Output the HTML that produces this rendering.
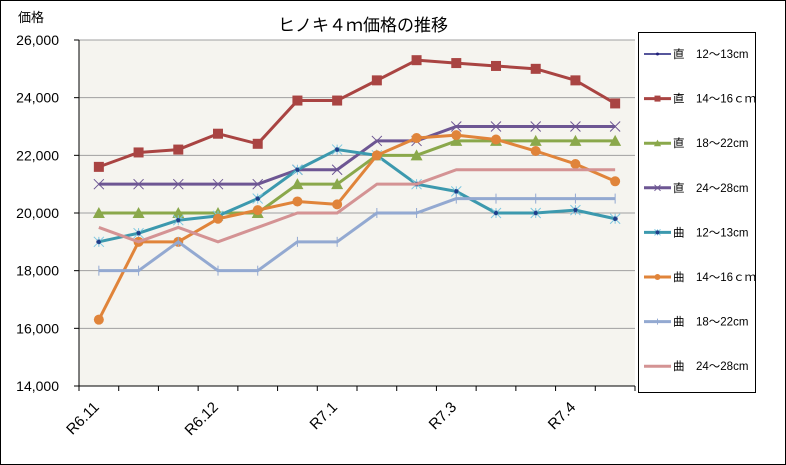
<!DOCTYPE html>
<html><head><meta charset="utf-8"><style>
body{margin:0;background:#fff;}
svg{display:block;font-family:"Liberation Sans","Noto Sans CJK JP",sans-serif;}
</style></head><body>
<svg id="c" width="786" height="465">
<rect x="0.5" y="0.5" width="785" height="464" fill="#fff" stroke="#000"/>
<rect x="79" y="40" width="556" height="346" fill="#f5f4ef"/>
<text x="363" y="31" font-size="17" text-anchor="middle">ヒノキ４ｍ価格の推移</text>
<text x="18" y="22" font-size="13">価格</text>
<g id="grid"></g><g id="series"></g><g id="legend"></g>
</svg>
<script>
const categories=["R6.11","","","R6.12","","","R7.1","","","R7.3","","","R7.4",""];
const yTicks=[14000,16000,18000,20000,22000,24000,26000];
const seriesNames=["直　12～13cm","直　14～16ｃｍ","直　18～22cm","直　24～28cm","曲　12～13cm","曲　14～16ｃｍ","曲　18～22cm","曲　24～28cm"];
const s1=[19000,19300,19750,19900,20500,21500,22200,22000,21000,20750,20000,20000,20100,19800];
const s2=[21600,22100,22200,22750,22400,23900,23900,24600,25300,25200,25100,25000,24600,23800];
const s3=[20000,20000,20000,20000,20000,21000,21000,22000,22000,22500,22500,22500,22500,22500];
const s4=[21000,21000,21000,21000,21000,21500,21500,22500,22500,23000,23000,23000,23000,23000];
const s5=[19000,19300,19750,19900,20500,21500,22200,22000,21000,20750,20000,20000,20100,19800];
const s6=[16300,19000,19000,19800,20100,20400,20300,22000,22600,22700,22550,22150,21700,21100];
const s7=[18000,18000,19000,18000,18000,19000,19000,20000,20000,20500,20500,20500,20500,20500];
const s8=[19500,19000,19500,19000,19500,20000,20000,21000,21000,21500,21500,21500,21500,21500];
const NS="http://www.w3.org/2000/svg";
const X0=79,X1=635,Y0=386,Y1=40,YMIN=14000,YMAX=26000;
const step=(X1-X0)/categories.length;
const xs=i=>X0+step*(i+0.5);
const ys=v=>Y0-(v-YMIN)/(YMAX-YMIN)*(Y0-Y1);
function mk(t,a,p){const e=document.createElementNS(NS,t);for(const k in a)e.setAttribute(k,a[k]);p.appendChild(e);return e;}
const grid=document.getElementById('grid');
yTicks.forEach(v=>{
 const l=mk('line',{x1:X0,x2:X1,y1:ys(v),y2:ys(v),stroke:'#a0a0a0','stroke-width':1},grid);
 
 
 mk('line',{x1:X0-5,x2:X0,y1:ys(v),y2:ys(v),stroke:'#000'},grid);
 const t=mk('text',{x:59,y:ys(v)+5,'font-size':14,'text-anchor':'end'},grid);t.textContent=v.toLocaleString('en-US');
 
 
});
mk('line',{x1:X0,x2:X0,y1:Y1,y2:Y0,stroke:'#000'},grid);
mk('line',{x1:X0,x2:X1,y1:Y0,y2:Y0,stroke:'#000'},grid);
for(let i=0;i<=categories.length;i++)mk('line',{x1:X0+step*i,x2:X0+step*i,y1:Y0,y2:Y0+5,stroke:'#000'},grid);
categories.forEach((c,i)=>{if(!c)return;const x=xs(i)+1,y=408;
 const t=mk('text',{x:x,y:y,'font-size':15,'text-anchor':'end',transform:`rotate(-45 ${x} ${y})`},grid);t.textContent=c;
 
 });
const data=[s1,s2,s3,s4,s5,s6,s7,s8];
const colors=['#1f1f7a','#a94442','#8aa84b','#6d5693','#3c99ae','#e0843a','#93a9d1','#d49394'];
const widths=[1.5,3,3,3,3,3,3,3];
const markers=['dot','square','tri','x','star','circle','plus','none'];
function marker(g,type,x,y,col,small){
 const s=small?0.6:1;
 if(type==='dot')mk('circle',{cx:x,cy:y,r:2.5*s,fill:col},g);
 else if(type==='square')mk('rect',{x:x-5*s,y:y-5*s,width:10*s,height:10*s,fill:col},g);
 else if(type==='tri')mk('polygon',{points:`${x},${y-6*s} ${x+6*s},${y+5*s} ${x-6*s},${y+5*s}`,fill:col},g);
 else if(type==='circle')mk('circle',{cx:x,cy:y,r:5*s,fill:col},g);
 else if(type==='x'){const d=5*s;mk('path',{d:`M${x-d} ${y-d}L${x+d} ${y+d}M${x-d} ${y+d}L${x+d} ${y-d}`,stroke:col,'stroke-width':1},g);}
 else if(type==='star'){const d=5*s;mk('path',{d:`M${x-d} ${y-d}L${x+d} ${y+d}M${x-d} ${y+d}L${x+d} ${y-d}M${x} ${y-d}L${x} ${y+d}`,stroke:'#7fc8e0','stroke-width':1},g);mk('circle',{cx:x,cy:y,r:2,fill:'#1f3f8a'},g);}
 else if(type==='plus'){const d=5*s;mk('path',{d:`M${x} ${y-d}L${x} ${y+d}`,stroke:col,'stroke-width':1},g);}
}
const sg=document.getElementById('series');
data.forEach((arr,k)=>{
 const g=mk('g',{},sg);
 
 
 mk('polyline',{points:arr.map((v,i)=>xs(i)+','+ys(v)).join(' '),fill:'none',stroke:colors[k],'stroke-width':widths[k],'stroke-linejoin':'round'},g);
 arr.forEach((v,i)=>marker(g,markers[k],xs(i),ys(v),colors[k],false));
});
const lg=document.getElementById('legend');
mk('rect',{x:638.5,y:32.5,width:117,height:360,fill:'#fff',stroke:'#000'},lg);
seriesNames.forEach((n,k)=>{
 const y=54+k*44.6;
 const g=mk('g',{},lg);
 
 
 mk('line',{x1:644,x2:671,y1:y,y2:y,stroke:colors[k],'stroke-width':widths[k]},g);
 marker(g,markers[k],657.5,y,colors[k],true);
 const t=mk('text',{x:673,y:y+4,'font-size':11.5},g);t.textContent=n;
});
</script>
</body></html>
